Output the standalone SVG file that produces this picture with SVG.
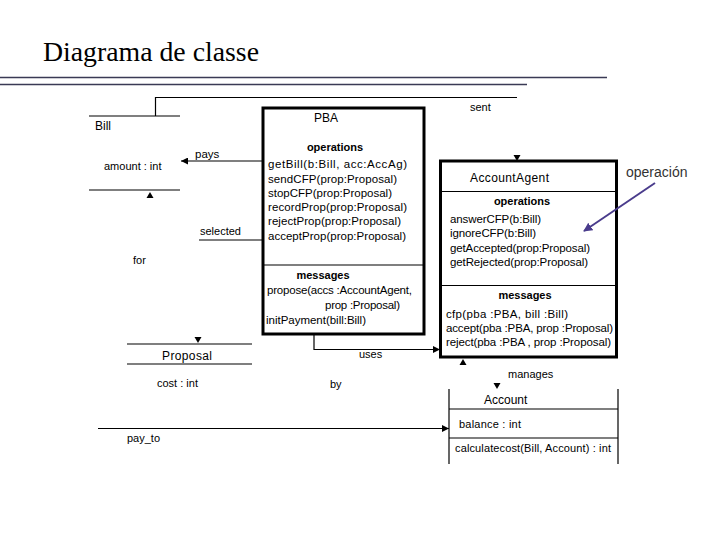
<svg xmlns="http://www.w3.org/2000/svg" width="720" height="540" viewBox="0 0 720 540">
<defs>
<style>
.t{font-family:"Liberation Sans",Arial,sans-serif;font-size:11px;fill:#000}
.m{font-size:11.5px}
.b{font-weight:bold;text-anchor:middle}
.ln{stroke:#000;stroke-width:1.2;fill:none}
.box{stroke:#000;stroke-width:3;fill:#fff}
</style>
<marker id="ah" viewBox="0 0 10 10" refX="10" refY="5" markerWidth="7" markerHeight="7" orient="auto" markerUnits="userSpaceOnUse"><path d="M0,0L10,5L0,10z" fill="#000"/></marker>
<marker id="ah2" viewBox="0 0 10 10" refX="9" refY="5" markerWidth="9" markerHeight="9" orient="auto" markerUnits="userSpaceOnUse"><path d="M0,0L10,5L0,10z" fill="#4a3c8c"/></marker>
</defs>
<rect width="720" height="540" fill="#fff"/>
<text x="43" y="61" textLength="216" lengthAdjust="spacingAndGlyphs" style="font-family:'Liberation Serif','Times New Roman',serif;font-size:27px">Diagrama de classe</text>
<line x1="0" y1="77.5" x2="607" y2="77.5" stroke="#3a3a55" stroke-width="1.5"/>
<line x1="0" y1="84.5" x2="527" y2="84.5" stroke="#3a3a55" stroke-width="1.5"/>

<g id="connectors">
<polyline class="ln" points="155.5,116 155.5,97.5 517,97.5"/>
<text class="t" x="470" y="111">sent</text>
<path d="M513.5,155 L520.5,155 L517,161z" fill="#000"/>
<line class="ln" x1="262" y1="161" x2="181" y2="161" marker-end="url(#ah)"/>
<text class="t" x="195" y="158" style="font-size:11.5px">pays</text>
<path d="M146.5,198 L153.5,198 L150,192z" fill="#000"/>
<text class="t" x="133" y="264">for</text>
<line class="ln" x1="199" y1="240" x2="262" y2="240"/>
<text class="t" x="200" y="235">selected</text>
<polyline class="ln" points="314,335 314,349.5 440,349.5" marker-end="url(#ah)"/>
<text class="t" x="359" y="358">uses</text>
<path d="M459.5,365 L466.5,365 L463,359z" fill="#000"/>
<text class="t" x="508" y="378">manages</text>
<path d="M493.5,383 L500.5,383 L497,389z" fill="#000"/>
<text class="t" x="330" y="388">by</text>
<path d="M194.5,337 L201.5,337 L198,343z" fill="#000"/>
<line class="ln" x1="98" y1="428.5" x2="449" y2="428.5" marker-end="url(#ah)"/>
<text class="t" x="127" y="442">pay_to</text>
</g>

<g id="Bill">
<line class="ln" x1="89" y1="116" x2="180" y2="116"/>
<text class="t" x="95" y="130" style="font-size:12px">Bill</text>
<text class="t" x="104" y="170">amount : int</text>
<line class="ln" x1="89" y1="190" x2="180" y2="190"/>
</g>

<g id="PBA">
<rect class="box" x="263" y="108" width="161" height="226"/>
<text class="t" x="314" y="122" style="font-size:12px">PBA</text>
<text class="t b" x="335" y="151">operations</text>
<text class="t m" x="268" y="168" textLength="139">getBill(b:Bill, acc:AccAg)</text>
<text class="t m" x="268" y="183" textLength="129">sendCFP(prop:Proposal)</text>
<text class="t m" x="268" y="197" textLength="124">stopCFP(prop:Proposal)</text>
<text class="t m" x="268" y="211" textLength="139">recordProp(prop:Proposal)</text>
<text class="t m" x="268" y="225" textLength="133">rejectProp(prop:Proposal)</text>
<text class="t m" x="268" y="240" textLength="138">acceptProp(prop:Proposal)</text>
<line class="ln" x1="263" y1="265" x2="424" y2="265"/>
<text class="t b" x="323" y="279">messages</text>
<text class="t m" x="267" y="294" textLength="145">propose(accs :AccountAgent,</text>
<text class="t m" x="325" y="309" textLength="75">prop :Proposal)</text>
<text class="t m" x="266" y="324" textLength="100">initPayment(bill:Bill)</text>
</g>

<g id="AccountAgent">
<rect class="box" x="440.5" y="161" width="176" height="196"/>
<text class="t" x="470" y="182" style="font-size:12px" textLength="79">AccountAgent</text>
<line class="ln" x1="440" y1="191.5" x2="617" y2="191.5"/>
<text class="t b" x="522" y="205">operations</text>
<text class="t m" x="450" y="223" textLength="91">answerCFP(b:Bill)</text>
<text class="t m" x="450" y="237" textLength="86">ignoreCFP(b:Bill)</text>
<text class="t m" x="450" y="252" textLength="140">getAccepted(prop:Proposal)</text>
<text class="t m" x="450" y="266" textLength="138">getRejected(prop:Proposal)</text>
<line class="ln" x1="440" y1="285.5" x2="617" y2="285.5"/>
<text class="t b" x="525" y="299">messages</text>
<text class="t m" x="446" y="318" textLength="122">cfp(pba :PBA, bill :Bill)</text>
<text class="t m" x="446" y="332" textLength="167">accept(pba :PBA, prop :Proposal)</text>
<text class="t m" x="446" y="346" textLength="165">reject(pba :PBA , prop :Proposal)</text>
</g>

<g id="Proposal">
<line class="ln" x1="127" y1="344" x2="252" y2="344"/>
<text class="t" x="162" y="360" style="font-size:12px" textLength="50">Proposal</text>
<line class="ln" x1="127" y1="364" x2="252" y2="364"/>
<text class="t" x="157" y="387">cost : int</text>
</g>

<g id="Account">
<line class="ln" x1="449" y1="389" x2="449" y2="464"/>
<line class="ln" x1="618" y1="389" x2="618" y2="464"/>
<text class="t" x="484" y="404" style="font-size:12px">Account</text>
<line class="ln" x1="449" y1="409" x2="618" y2="409"/>
<text class="t" x="459" y="428" textLength="62">balance : int</text>
<line class="ln" x1="449" y1="438" x2="618" y2="438"/>
<text class="t" x="455" y="452" textLength="156">calculatecost(Bill, Account) : int</text>
</g>

<g id="operacion">
<text x="626" y="177" style="font-family:'Liberation Sans',Arial,sans-serif;font-size:14px;fill:#333">operación</text>
<line x1="655" y1="183" x2="584" y2="231" stroke="#4a3c8c" stroke-width="2" marker-end="url(#ah2)"/>
</g>
</svg>
